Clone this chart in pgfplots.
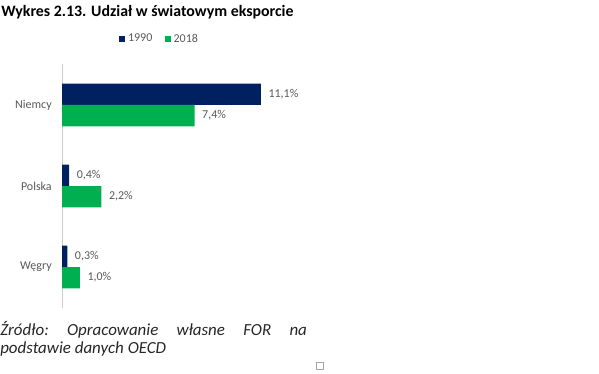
\documentclass[border=0pt]{standalone}
\usepackage{fontspec}
\setmainfont{Carlito}
\usepackage{pgfplots}
\pgfplotsset{compat=1.18}
\definecolor{navy}{HTML}{002060}
\definecolor{grn}{HTML}{00B050}
\definecolor{txt}{HTML}{595959}
\begin{document}
\begin{tikzpicture}
\begin{scope}[x=0.75pt,y=-0.75pt]
\path (0,0) rectangle (599,374);
\node[anchor=base west,inner sep=0pt,font=\fontsize{11.9pt}{14pt}\selectfont\bfseries] at (1,17) {Wykres 2.13. Udział w światowym eksporcie};
\node[anchor=base west,inner sep=0pt,font=\fontsize{12.7pt}{15pt}\selectfont\itshape,text=black!85] at (0,335.5) {\hbox to 230pt{Źródło:\hfill Opracowanie\hfill własne\hfill FOR\hfill na}};
\node[anchor=base west,inner sep=0pt,font=\fontsize{12.7pt}{15pt}\selectfont\itshape,text=black!85] at (0,353) {podstawie danych OECD};
\draw[gray!70,line width=0.5pt] (316.5,362.5) rectangle (323.5,369.5);
\end{scope}
\begin{axis}[
  at={(46.5pt,-230.625pt)}, anchor=south west,
  scale only axis, width=174.75pt, height=182.25pt,
  xbar, bar width=16pt,
  xmin=0, xmax=13, ymin=-0.5, ymax=2.5, enlargelimits=false,
  axis x line=none, axis y line*=left,
  y axis line style={draw=black!20, line width=0.6pt},
  ytick={0,1,2}, yticklabels={Węgry,Polska,Niemcy},
  major tick length=0pt,
  yticklabel style={anchor=east, inner sep=0pt, xshift=-7.5pt, text=txt, font=\fontsize{9pt}{11pt}\selectfont},
  nodes near coords={\pgfmathprintnumber[fixed,fixed zerofill,precision=1,use comma,assume math mode=true]{\pgfplotspointmeta}\%},
  nodes near coords style={anchor=west, inner sep=0pt, xshift=5.5pt, text=txt, font=\fontsize{9pt}{11pt}\selectfont},
  point meta=x,
  legend columns=2,
  legend style={at={(0.4206,1.105)}, anchor=center, draw=none, fill=none, font=\fontsize{9pt}{11pt}\selectfont, text=txt, inner sep=0pt,
    /tikz/every even column/.append style={column sep=7.5pt}},
  legend image code/.code={\fill[#1,draw=none] (0pt,-2.25pt) rectangle (4.5pt,2.25pt);},
]
\addplot[fill=navy, draw=none, bar shift=8pt] coordinates {(0.3,0) (0.4,1) (11.1,2)};
\addplot[fill=grn, draw=none, bar shift=-8pt] coordinates {(1.0,0) (2.2,1) (7.4,2)};
\legend{1990,2018}
\end{axis}
\end{tikzpicture}
\end{document}
